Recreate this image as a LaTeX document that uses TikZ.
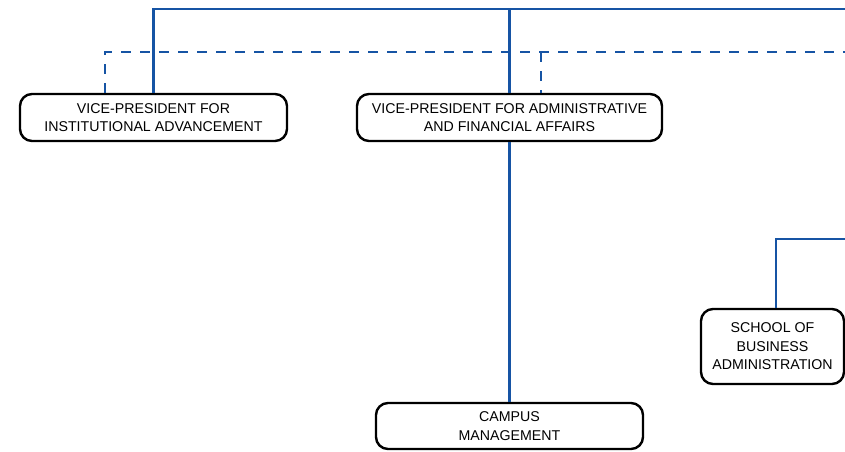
\documentclass[tikz,border=0pt]{standalone}
\usepackage{fontspec}
\setmainfont{Liberation Sans}
\usetikzlibrary{calc}
\definecolor{orgblue}{RGB}{22,84,164}

\begin{document}
\begin{tikzpicture}[x=1pt,y=-1pt,
  unit/.style={draw=black, line width=2.4pt, rounded corners=12pt, fill=white,
    align=center, inner sep=0pt, font=\fontsize{14.2}{18.5}\selectfont},
  solidlink/.style={draw=orgblue, line width=2.4pt},
  dashlink/.style={draw=orgblue, line width=2.4pt, dash pattern=on 10pt off 9pt}]
  \def\dl{48.5pt}
  \def\dr{31.5pt}

  \useasboundingbox (0,0) rectangle (845,451);

  \node[unit, minimum width=267pt, minimum height=47pt] (vpia)   at (153.5,117.5) {VICE-PRESIDENT FOR\\INSTITUTIONAL ADVANCEMENT};
  \node[unit, minimum width=305pt, minimum height=47pt] (vpafa)  at (509.5,117.5) {VICE-PRESIDENT FOR ADMINISTRATIVE\\AND FINANCIAL AFFAIRS};
  \node[unit, minimum width=267pt, minimum height=46pt] (campus) at (509.5,426)   {CAMPUS\\MANAGEMENT};
  \node[unit, minimum width=143pt, minimum height=75pt] (school) at (772.5,346.5) {SCHOOL OF\\BUSINESS\\ADMINISTRATION};

  \coordinate (topR) at (845,9);
  \coordinate (dashR) at (845,52);
  \coordinate (schR) at (845,239);

  % solid lines
  \draw[solidlink] (vpia.north) |- (topR);
  \draw[solidlink] (vpafa.north) -- (vpafa.north |- topR);
  \draw[solidlink] (vpafa.south) -- (campus.north);
  \draw[solidlink] ([xshift=3.5pt]school.north) |- (schR);

  % dashed lines
  \draw[dashlink] ([xshift=-\dl]vpia.north) |- (dashR);
  \draw[dashlink] ([xshift=\dr]vpafa.north |- dashR) -- ([xshift=\dr]vpafa.north);
\end{tikzpicture}
\end{document}
